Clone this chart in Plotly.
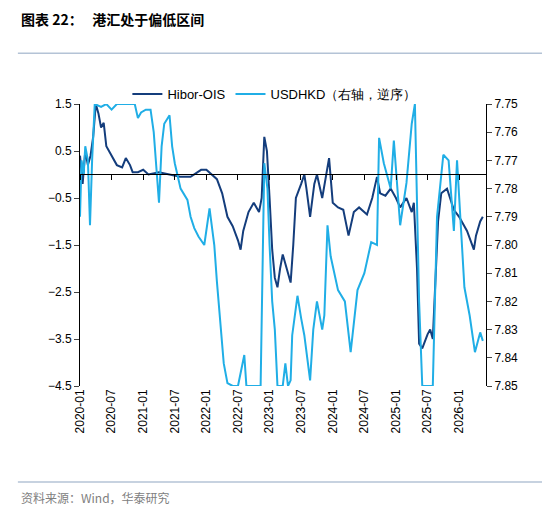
import plotly.graph_objects as go
import pandas as pd

# months since 2020-01-01
hibor_m = [0,0.5,1,1.5,2,2.5,3,3.5,4,4.5,5,6,7,8,8.7,9.5,10,11,12,13,15,17,19,21,23,24,25,26,27,28,29,30,30.5,31,32,33,34,34.5,35,35.5,36,36.5,37,37.5,38,38.5,39,40,40.5,41,42,42.6,43,43.7,44.5,45,46,47,47.3,48,49,50,51,52,53,54.5,55.5,56.4,57,58,59,60,60.8,62,63,63.4,64,64.4,65,66,66.5,67,68,68.6,69.7,71,72,73.5,74.8,75.2,76,76.5]
hibor_v = [0.4,-0.2,0.5,0.2,0.4,0.8,1.5,1.3,1.0,1.1,0.6,0.4,0.2,0.15,0.35,0.2,0.05,0.05,0.1,0.0,0.05,0.0,-0.05,-0.05,0.1,0.1,0.0,-0.1,-0.4,-0.9,-1.1,-1.4,-1.6,-1.2,-0.8,-0.6,-0.8,-0.5,0.8,0.5,-0.5,-1.6,-2.2,-2.4,-2.0,-1.7,-1.9,-2.3,-1.5,-0.5,-0.2,0.0,-0.3,-0.9,-0.2,0.0,-0.5,0.1,0.35,-0.6,-0.7,-0.75,-1.3,-0.8,-0.7,-0.85,-0.5,-0.05,-0.4,-0.45,-0.3,-0.5,-0.7,-0.5,-0.8,-0.6,-2.0,-3.6,-3.7,-3.4,-3.3,-3.5,-1.0,-0.4,-0.3,-0.75,-0.9,-1.2,-1.6,-1.3,-1.0,-0.9]

hkd_m = [0,0.3,0.7,1,1.5,1.9,2.3,2.8,4,5,6,7,8,9,10.4,11,11.6,12.5,13.4,14,14.4,15,15.5,16,17,17.5,18,19.1,20.4,21,21.7,22.5,23.6,24.6,25.5,26,27.3,28,29,30,31.2,31.6,33,34.3,35,35.6,36,36.5,37,37.5,38.5,39,39.5,40,40.3,41.3,42,42.6,43.7,44.3,45,46,46.4,47,47.6,49,50.3,51.4,52.7,54,55.3,56.4,56.8,57.7,59,59.6,60.8,62,63,63.6,64.4,65,66,67,67.8,69,70,71,71.6,73,74,75,76,76.5]
hkd_v = [7.79,7.77,7.775,7.765,7.77,7.793,7.77,7.75,7.751,7.75,7.752,7.75,7.75,7.75,7.75,7.755,7.753,7.752,7.752,7.76,7.771,7.785,7.765,7.757,7.754,7.765,7.771,7.78,7.784,7.79,7.794,7.797,7.80,7.787,7.80,7.813,7.842,7.849,7.85,7.85,7.839,7.85,7.85,7.85,7.771,7.78,7.80,7.82,7.83,7.85,7.85,7.842,7.85,7.848,7.832,7.818,7.826,7.832,7.848,7.83,7.82,7.83,7.825,7.793,7.804,7.816,7.82,7.838,7.816,7.81,7.799,7.80,7.762,7.771,7.78,7.763,7.793,7.778,7.757,7.75,7.82,7.85,7.85,7.85,7.79,7.768,7.77,7.795,7.77,7.815,7.825,7.838,7.831,7.834]

tick_vals = ["2020-01-01","2020-07-01","2021-01-01","2021-07-01","2022-01-01","2022-07-01","2023-01-01","2023-07-01","2024-01-01","2024-07-01","2025-01-01","2025-07-01","2026-01-01"]
tick_text = ["2020-01","2020-07","2021-01","2021-07","2022-01","2022-07","2023-01","2023-07","2024-01","2024-07","2025-01","2025-07","2026-01"]
left_ticks = [1.5,0.5,-0.5,-1.5,-2.5,-3.5,-4.5]
right_ticks = [7.75,7.76,7.77,7.78,7.79,7.80,7.81,7.82,7.83,7.84,7.85]

base = pd.Timestamp("2020-01-01")
to_date = lambda ms: [base + pd.Timedelta(days=m * 30.44) for m in ms]

DARK = "#143d7c"
LIGHT = "#20aee6"
font = "Liberation Sans, Arial, sans-serif"

fig = go.Figure()
fig.add_trace(go.Scatter(x=to_date(hkd_m), y=hkd_v, name="USDHKD（右轴，逆序）", yaxis="y2",
                         mode="lines", line=dict(color=LIGHT, width=2), legendrank=2))
fig.add_trace(go.Scatter(x=to_date(hibor_m), y=hibor_v, name="Hibor-OIS",
                         mode="lines", line=dict(color=DARK, width=2), legendrank=1))

xr = ["2020-01-01", "2026-06-05"]
fig.update_layout(
    width=550, height=509, margin=dict(l=72, r=72, t=96, b=131, autoexpand=False),
    paper_bgcolor="white", plot_bgcolor="white",
    font=dict(family=font, size=12, color="black"),
    showlegend=True,
    legend=dict(orientation="h", x=0.48, xanchor="center", y=1.035, yanchor="middle",
                font=dict(size=13), bgcolor="rgba(0,0,0,0)"),
    xaxis=dict(type="date", range=xr, tickvals=tick_vals, ticktext=tick_text, tickangle=-90,
               showgrid=False, showline=False, ticks="", zeroline=False, tickfont=dict(size=12)),
    xaxis2=dict(type="date", range=xr, overlaying="x", anchor="free", position=0.752,
                tickvals=tick_vals, showticklabels=False, ticks="outside", ticklen=5,
                tickcolor="black", showline=True, linecolor="black", linewidth=1.2, showgrid=False),
    yaxis=dict(range=[-4.5, 1.5], tickvals=left_ticks, showgrid=False, zeroline=False,
               showline=True, linecolor="black", ticks="outside", ticklen=5, tickfont=dict(size=12)),
    yaxis2=dict(range=[7.85, 7.75], tickvals=right_ticks, tickformat=".2f", overlaying="y", side="right",
                showgrid=False, zeroline=False, showline=True, linecolor="black",
                ticks="outside", ticklen=5, tickfont=dict(size=12)),
)
fig.add_trace(go.Scatter(x=[xr[0]], y=[None], xaxis="x2", showlegend=False, hoverinfo="skip"))

fig.add_annotation(text="<b>图表 22：   港汇处于偏低区间</b>", xref="paper", yref="paper",
                   x=-0.15, y=1.0, yanchor="top", xanchor="left", showarrow=False,
                   yshift=97, font=dict(size=14, family="Noto Sans CJK SC"))
fig.add_shape(type="line", xref="paper", yref="paper", x0=-0.153, x1=1.153, y0=1.18, y1=1.18,
              line=dict(color="#b4c3d6", width=1.5))
fig.add_shape(type="line", xref="paper", yref="paper", x0=-0.153, x1=1.153, y0=-0.34, y1=-0.34,
              line=dict(color="#b4c3d6", width=1.5))
fig.add_annotation(text="资料来源：Wind，华泰研究", xref="paper", yref="paper", x=-0.15, y=-0.395,
                   xanchor="left", yanchor="middle", showarrow=False,
                   font=dict(size=12, color="#808080", family="Noto Sans CJK SC"))
fig.write_html("out.html")
